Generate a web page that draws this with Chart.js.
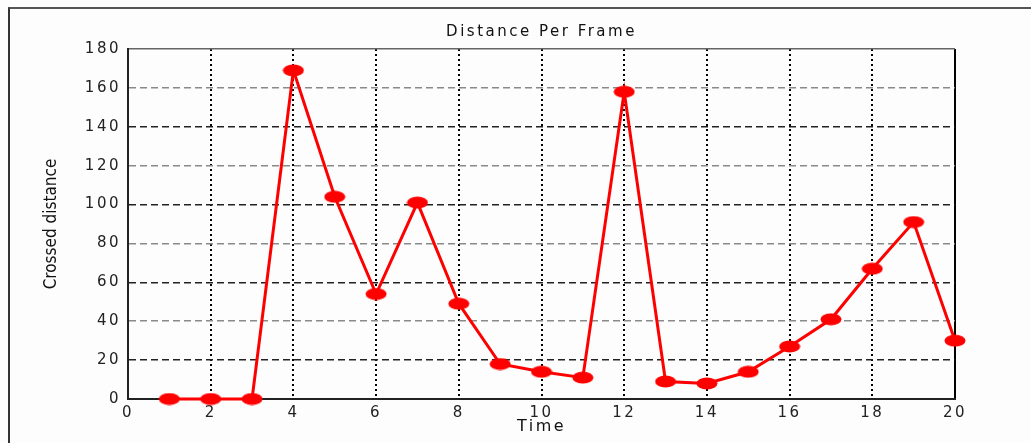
<!DOCTYPE html>
<html>
<head>
<meta charset="utf-8">
<script src="https://cdn.jsdelivr.net/npm/chart.js@4"></script>
<style>
  html, body { margin: 0; padding: 0; background: #fdfdfd; }
  #wrap { position: relative; width: 1031px; height: 443px; overflow: hidden; }
  #frame { position: absolute; left: 8px; top: 7px; width: 1100px; height: 500px;
           border-left: 2px solid #333; border-top: 2px solid #555; }
  #chart { position: absolute; left: 0; top: 0; }
</style>
</head>
<body>
<div id="wrap">
  <div id="frame"></div>
  <canvas id="chart" width="1031" height="443"></canvas>
</div>
<script>
// values
var times    = [1, 2, 3, 4, 5, 6, 7, 8, 9, 10, 11, 12, 13, 14, 15, 16, 17, 18, 19, 20];
var distance = [0, 0, 0, 169, 104, 54, 101, 49, 18, 14, 11, 158, 9, 8, 14, 27, 41, 67, 91, 30];
var xTicks   = [0, 2, 4, 6, 8, 10, 12, 14, 16, 18, 20];
var yTicks   = [0, 20, 40, 60, 80, 100, 120, 140, 160, 180];

var points = times.map(function(t, i) { return { x: t, y: distance[i] }; });

// flat red marker, wider than tall
var marker = document.createElement('canvas');
marker.width = 22;
marker.height = 13;
var mctx = marker.getContext('2d');
mctx.fillStyle = '#ff0000';
mctx.beginPath();
mctx.ellipse(11, 6.5, 10.5, 6, 0, 0, Math.PI * 2);
mctx.fill();

var spacing = {
    id: 'spacing',
    afterUpdate: function(chart) {
        var y = chart.scales.y;
        if (y && !y._noSpacing) {
            var orig = y.drawTitle;
            y.drawTitle = function() {
                var c = this.ctx;
                var prev = c.letterSpacing;
                c.letterSpacing = '0px';
                orig.call(this);
                c.letterSpacing = prev;
            };
            y._noSpacing = true;
        }
    },
    beforeDraw: function(chart) {
        chart.ctx.letterSpacing = '2.5px';
    }
};

var ctx = document.getElementById('chart').getContext('2d');
new Chart(ctx, {
    type: 'line',
    data: {
        datasets: [{
            label: 'Distance',
            data: points,
            borderColor: '#ff0000',
            backgroundColor: '#ff0000',
            borderWidth: 3,
            pointStyle: marker,
            pointRadius: 7,
            tension: 0,
            fill: false,
            clip: false
        }]
    },
    plugins: [spacing],
    options: {
        responsive: false,
        animation: false,
        layout: { padding: { left: 0, right: 76, top: 0, bottom: 0 } },
        plugins: {
            legend: { display: false },
            tooltip: { enabled: false },
            title: {
                display: true,
                fullSize: false,
                text: 'Distance Per Frame',
                color: '#111',
                font: { family: 'DejaVu Sans', size: 15, weight: 'normal' },
                padding: { top: 23, bottom: 8 }
            }
        },
        scales: {
            x: {
                type: 'linear',
                min: 0,
                max: 20,
                afterBuildTicks: function(scale) {
                    scale.ticks = xTicks.map(function(v) { return { value: v }; });
                },
                afterFit: function(scale) { scale.height = 44; },
                ticks: {
                    color: '#222',
                    padding: 5,
                    maxRotation: 0,
                    font: { family: 'DejaVu Sans', size: 15 }
                },
                grid: {
                    drawTicks: false,
                    color: '#000',
                    lineWidth: 2
                },
                border: {
                    color: '#222',
                    width: 2,
                    dash: function(c) { return c.tick && (c.tick.value === 0 || c.tick.value === 20) ? [] : [2, 3]; }
                },
                title: {
                    display: true,
                    text: 'Time',
                    color: '#111',
                    font: { family: 'DejaVu Sans', size: 16 },
                    padding: { top: 0, bottom: 7 }
                }
            },
            y: {
                min: 0,
                max: 180,
                afterBuildTicks: function(scale) {
                    scale.ticks = yTicks.map(function(v) { return { value: v }; });
                },
                afterFit: function(scale) { scale.width = 128; },
                ticks: {
                    color: '#222',
                    padding: 7,
                    font: { family: 'DejaVu Sans', size: 15 }
                },
                grid: {
                    drawTicks: false,
                    color: function(c) {
                        if (!c.tick) return '#333';
                        if (c.tick.value === 180) return '#666';
                        return (c.tick.value / 20) % 2 === 0 ? '#8a8a8a' : '#222';
                    },
                    lineWidth: 1.5
                },
                border: {
                    color: '#222',
                    width: 2,
                    dash: function(c) { return c.tick && (c.tick.value === 0 || c.tick.value === 180) ? [] : [7, 4]; }
                },
                title: {
                    display: true,
                    text: 'Crossed distance',
                    color: '#111',
                    font: { family: "'Liberation Sans Narrow', 'DejaVu Sans Condensed', 'Liberation Sans'", size: 17 },
                    padding: { top: 41, bottom: 0 }
                }
            }
        }
    }
});
</script>
</body>
</html>
